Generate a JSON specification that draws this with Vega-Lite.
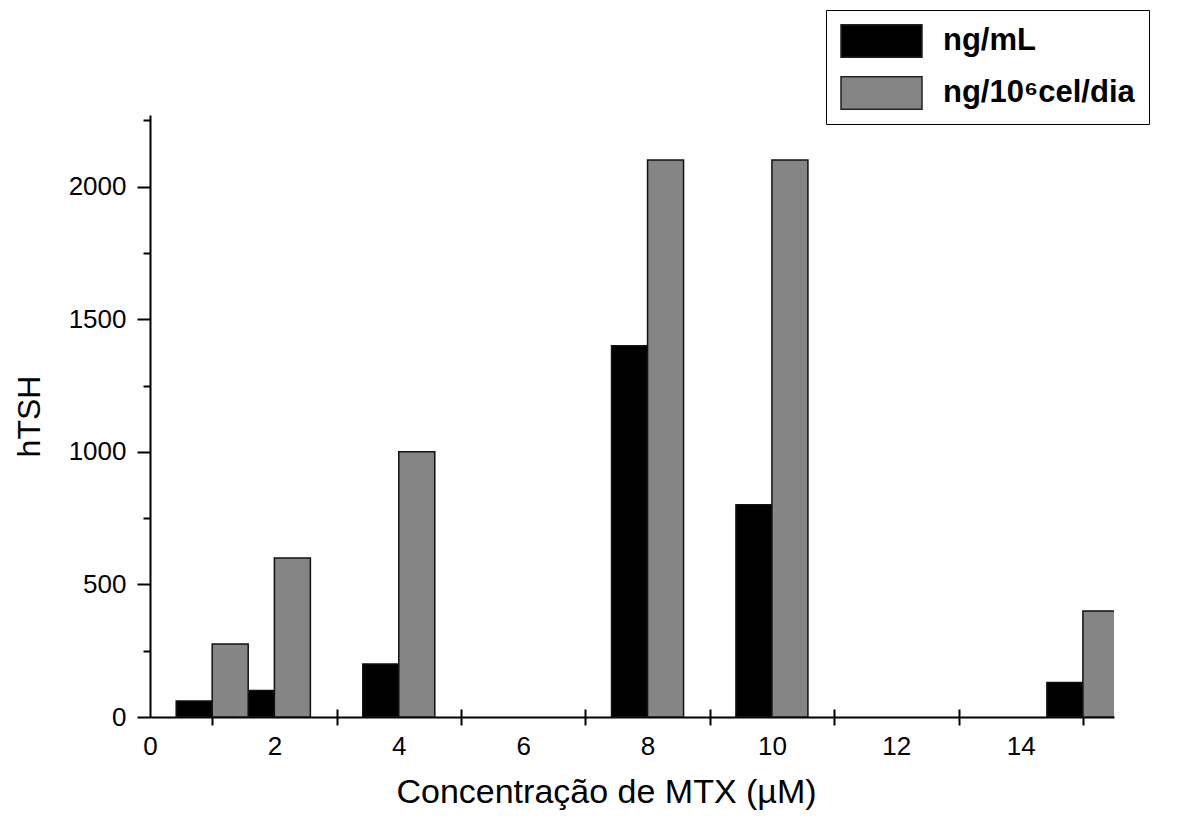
{
  "$schema": "https://vega.github.io/schema/vega-lite/v6.json",
  "width": 964,
  "height": 602,
  "autosize": {"type": "none"},
  "padding": {"left": 150, "top": 115, "right": 68, "bottom": 102},
  "background": "white",
  "config": {
    "view": {"stroke": null},
    "font": "Liberation Sans",
    "axis": {"grid": false, "domainColor": "black", "domainWidth": 2, "tickColor": "black", "tickWidth": 2, "labelColor": "black", "titleColor": "black", "labelFont": "Liberation Sans", "titleFont": "Liberation Sans", "titleFontWeight": "normal"}
  },
  "data": {
    "values": [
      {"conc": 1, "serie": "ng/mL", "value": 60},
      {"conc": 2, "serie": "ng/mL", "value": 100},
      {"conc": 4, "serie": "ng/mL", "value": 200},
      {"conc": 8, "serie": "ng/mL", "value": 1400},
      {"conc": 10, "serie": "ng/mL", "value": 800},
      {"conc": 15, "serie": "ng/mL", "value": 130},
      {"conc": 1, "serie": "ng/10⁶cel/dia", "value": 275},
      {"conc": 2, "serie": "ng/10⁶cel/dia", "value": 600},
      {"conc": 4, "serie": "ng/10⁶cel/dia", "value": 1000},
      {"conc": 8, "serie": "ng/10⁶cel/dia", "value": 2100},
      {"conc": 10, "serie": "ng/10⁶cel/dia", "value": 2100},
      {"conc": 15, "serie": "ng/10⁶cel/dia", "value": 400}
    ]
  },
  "encoding": {
    "y": {
      "field": "value",
      "type": "quantitative",
      "scale": {"domain": [0, 2270], "nice": false, "zero": true, "padding": 0},
      "axis": {
        "title": "hTSH",
        "titleFontSize": 32,
        "titlePadding": 22,
        "labelFontSize": 26,
        "labelPadding": 11,
        "labelFlush": false,
        "values": [0, 250, 500, 750, 1000, 1250, 1500, 1750, 2000, 2250],
        "labelExpr": "datum.value % 500 === 0 ? datum.label : ''",
        "format": "d",
        "tickSize": {"condition": {"test": "datum.value % 500 === 0", "value": 13}, "value": 7}
      }
    },
    "color": {
      "field": "serie",
      "type": "nominal",
      "scale": {"domain": ["ng/mL", "ng/10⁶cel/dia"], "range": ["#000000", "#858585"]},
      "legend": {
        "title": null,
        "orient": "none",
        "legendX": 676,
        "legendY": -105,
        "padding": 14,
        "strokeColor": "black",
        "fillColor": "white",
        "symbolType": "M-1,-0.4H1V0.4H-1Z",
        "symbolSize": 6561,
        "symbolStrokeColor": "#222222",
        "symbolStrokeWidth": 1.5,
        "symbolOpacity": 1,
        "labelFontSize": 31,
        "labelFontWeight": "bold",
        "labelColor": "black",
        "labelOffset": 20,
        "labelLimit": 400,
        "clipHeight": 34,
        "rowPadding": 18
      }
    }
  },
  "layer": [
    {
      "transform": [{"filter": "datum.serie === 'ng/mL'"}],
      "mark": {"type": "bar", "width": 36, "xOffset": -18, "stroke": "#111111", "strokeWidth": 1.5},
      "encoding": {
        "x": {
          "field": "conc",
          "type": "quantitative",
          "scale": {"domain": [0, 15.5], "nice": false, "zero": true, "padding": 0},
          "axis": {
            "title": "Concentração de MTX (µM)",
            "titleFontSize": 34,
            "titlePadding": 16,
            "titleX": 456,
            "labelFontSize": 26,
            "labelPadding": 16,
            "labelFlush": false,
            "ticks": false,
            "values": [0, 2, 4, 6, 8, 10, 12, 14],
            "format": "d"
          }
        }
      }
    },
    {
      "transform": [{"filter": "datum.serie !== 'ng/mL'"}],
      "mark": {"type": "bar", "width": 36, "xOffset": 18, "stroke": "#111111", "strokeWidth": 1.5, "clip": true},
      "encoding": {
        "x": {
          "field": "conc",
          "type": "quantitative",
          "axis": {
            "orient": "bottom",
            "title": null,
            "labels": false,
            "domain": false,
            "offset": -8,
            "tickSize": 16,
            "values": [1, 3, 5, 7, 9, 11, 13, 15]
          }
        }
      }
    }
  ],
  "resolve": {"axis": {"x": "independent"}}
}
